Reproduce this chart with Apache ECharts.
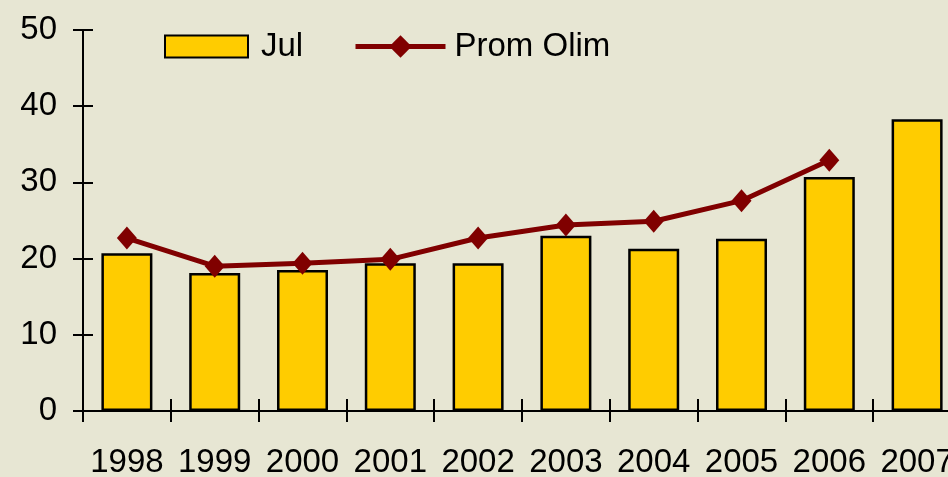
<!DOCTYPE html>
<html>
<head>
<meta charset="utf-8">
<script src="https://cdn.jsdelivr.net/npm/echarts@6/dist/echarts.min.js"></script>
<style>
  html, body { margin: 0; padding: 0; background: #e7e6d3; overflow: hidden; }
  /* the reference is cropped on the right, so the chart is wider than the window */
  #chart { width: 961px; height: 477px; }
</style>
</head>
<body>
<div id="chart"></div>
<script>
const years = ['1998', '1999', '2000', '2001', '2002', '2003', '2004', '2005', '2006', '2007'];
const julValues = [20.7, 18.1, 18.5, 19.4, 19.4, 23.0, 21.3, 22.6, 30.7, 38.3];
const promOlimValues = [22.7, 19.0, 19.4, 19.9, 22.7, 24.4, 24.9, 27.6, 32.9, null];

const FONT = '"Liberation Sans", Arial, sans-serif';
const FONT_SIZE = 33;
const legendText = { fontSize: FONT_SIZE, fontFamily: FONT, color: '#000' };

const chart = echarts.init(document.getElementById('chart'));

chart.setOption({
  backgroundColor: '#e7e6d3',
  animation: false,
  textStyle: { fontFamily: FONT, color: '#000' },
  // labels at the bottom are cut off in the original, don't shrink the grid for them
  grid: { left: 83, top: 30, right: 0, bottom: 66, containLabel: false, outerBoundsMode: 'none' },
  legend: [
    {
      data: [{ name: 'Jul', icon: 'rect' }],
      left: 164,
      top: 30,
      padding: 0,
      itemWidth: 83,
      itemHeight: 22,
      textStyle: { ...legendText, padding: [0, 0, 0, 8] }
    },
    {
      data: [{ name: 'Prom Olim', lineStyle: { width: 5 } }],
      left: 353,
      top: 30,
      padding: 0,
      itemWidth: 90,
      itemHeight: 28,
      textStyle: { ...legendText, padding: [0, 0, 0, 4] }
    }
  ],
  xAxis: [
    {
      type: 'category',
      data: years,
      position: 'bottom',
      axisLine: { lineStyle: { color: '#000', width: 2 } },
      axisTick: { show: true, length: 11, lineStyle: { color: '#000', width: 2 } },
      axisLabel: { interval: 0, fontSize: FONT_SIZE, fontFamily: FONT, color: '#000', margin: 35 },
      splitLine: { show: false }
    },
    {
      type: 'category',
      data: years,
      position: 'bottom',
      axisLine: { show: false },
      axisTick: { show: true, inside: true, length: 12, lineStyle: { color: '#000', width: 2 } },
      axisLabel: { show: false },
      splitLine: { show: false }
    }
  ],
  yAxis: [
    {
      type: 'value',
      min: 0,
      max: 50,
      interval: 10,
      position: 'left',
      axisLine: { show: true, lineStyle: { color: '#000', width: 2 } },
      axisTick: { show: true, length: 10, lineStyle: { color: '#000', width: 2 } },
      axisLabel: { fontSize: FONT_SIZE, fontFamily: FONT, color: '#000', margin: 26 },
      splitLine: { show: false }
    },
    {
      type: 'value',
      min: 0,
      max: 50,
      interval: 10,
      position: 'left',
      axisLine: { show: false },
      axisTick: { show: true, inside: true, length: 10, lineStyle: { color: '#000', width: 2 } },
      axisLabel: { show: false },
      splitLine: { show: false }
    }
  ],
  series: [
    {
      name: 'Jul',
      type: 'bar',
      data: julValues,
      barWidth: 51,
      itemStyle: { color: '#ffcc00', borderColor: '#000', borderWidth: 2.5 }
    },
    {
      name: 'Prom Olim',
      type: 'line',
      data: promOlimValues,
      symbol: 'diamond',
      symbolSize: [20, 23],
      lineStyle: { color: '#800000', width: 5 },
      itemStyle: { color: '#800000' }
    }
  ]
});
</script>
</body>
</html>
